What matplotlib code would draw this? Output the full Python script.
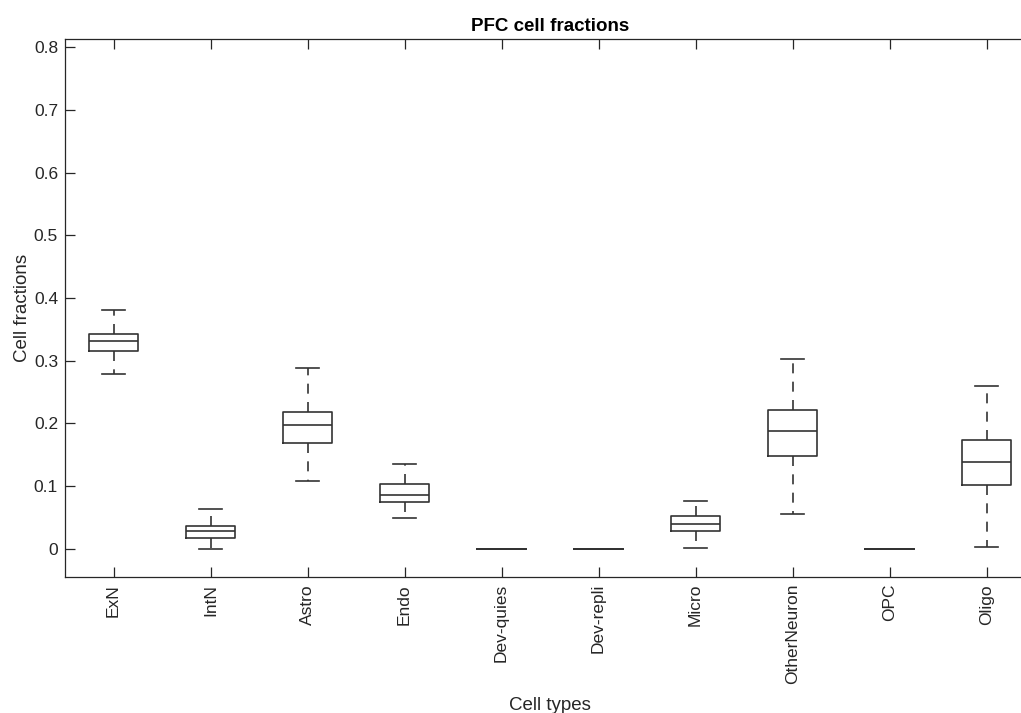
import matplotlib
matplotlib.use("Agg")
import matplotlib.pyplot as plt

plt.rcParams['font.family'] = ['Liberation Sans', 'DejaVu Sans']

categories = ["ExN", "IntN", "Astro", "Endo", "Dev-quies", "Dev-repli",
              "Micro", "OtherNeuron", "OPC", "Oligo"]
whislo = [0.279, 0.000, 0.108, 0.049, 0.0, 0.0, 0.001, 0.056, 0.0, 0.003]
q1     = [0.315, 0.017, 0.169, 0.074, 0.0, 0.0, 0.028, 0.148, 0.0, 0.101]
med    = [0.331, 0.028, 0.198, 0.085, 0.0, 0.0, 0.040, 0.188, 0.0, 0.139]
q3     = [0.342, 0.037, 0.218, 0.104, 0.0, 0.0, 0.052, 0.222, 0.0, 0.174]
whishi = [0.381, 0.064, 0.289, 0.136, 0.0, 0.0, 0.077, 0.302, 0.0, 0.259]

stats = []
for i, name in enumerate(categories):
    stats.append(dict(label=name, whislo=whislo[i], q1=q1[i], med=med[i],
                      q3=q3[i], whishi=whishi[i], fliers=[]))

fig = plt.figure(figsize=(10.21, 7.13), dpi=100)
ax = fig.add_axes([65/1021, 136/713, 970/1021, 538/713])

lc = '#333333'
ax.bxp(stats, positions=range(1, len(categories) + 1), widths=0.5,
       capwidths=0.24, showfliers=False,
       boxprops=dict(color=lc, linewidth=1.2),
       medianprops=dict(color=lc, linewidth=1.2),
       whiskerprops=dict(color=lc, linewidth=1.2, linestyle=(0, (6, 5))),
       capprops=dict(color=lc, linewidth=1.2))

ax.set_xlim(0.5, 10.5)
ax.set_ylim(-0.045, 0.813)
ax.set_yticks([0, 0.1, 0.2, 0.3, 0.4, 0.5, 0.6, 0.7, 0.8])
ax.set_yticklabels(["0", "0.1", "0.2", "0.3", "0.4", "0.5", "0.6", "0.7", "0.8"])
ax.set_xticks(range(1, len(categories) + 1))
ax.set_xticklabels(categories, rotation=90)

for s in ax.spines.values():
    s.set_color('#262626')
    s.set_linewidth(0.9)
ax.tick_params(axis='both', direction='in', length=7, width=0.9,
               colors='#262626', labelsize=12.5, labelcolor='#262626')
ax.tick_params(axis='x', top=True, pad=5)
ax.tick_params(axis='y', right=False, pad=5)

ax.set_xlabel("Cell types", fontsize=13.5, color='#262626', labelpad=9)
ax.set_ylabel("Cell fractions", fontsize=13.5, color='#262626', labelpad=2)
ax.set_title("PFC cell fractions", fontsize=13.5, fontweight='bold', pad=5.5)

fig.savefig("out.png", dpi=100)
